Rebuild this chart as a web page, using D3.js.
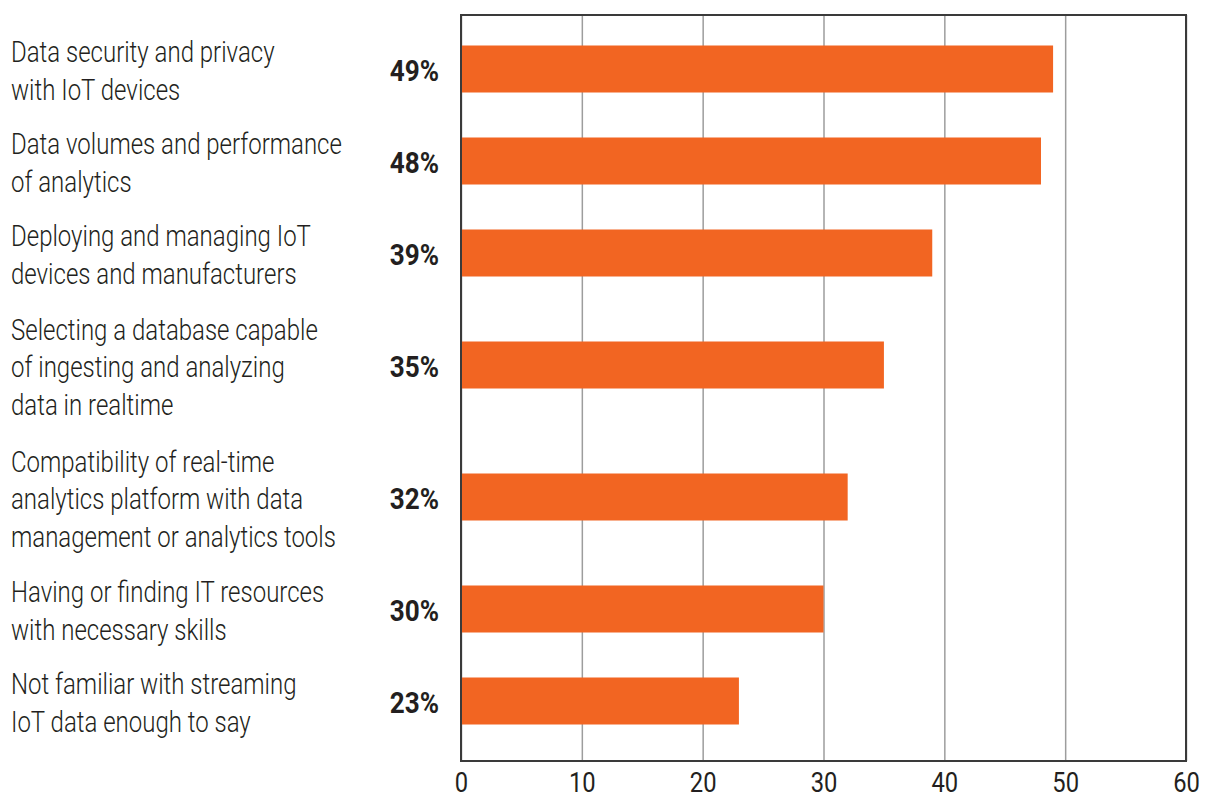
<!DOCTYPE html>
<html>
<head>
<meta charset="utf-8">
<script src="https://cdn.jsdelivr.net/npm/d3@7"></script>
<style>
  html, body { margin: 0; padding: 0; background: #ffffff; }
  svg { display: block; }
  text { font-family: Roboto, "Noto Sans", sans-serif; fill: #231f20; }
</style>
</head>
<body>
<svg id="chart" width="1208" height="796"></svg>
<script>
// Survey answers, one entry per bar (label lines as they wrap)
const categories = [
  ["Data security and privacy", "with IoT devices"],
  ["Data volumes and performance", "of analytics"],
  ["Deploying and managing IoT", "devices and manufacturers"],
  ["Selecting a database capable", "of ingesting and analyzing", "data in realtime"],
  ["Compatibility of real-time", "analytics platform with data", "management or analytics tools"],
  ["Having or finding IT resources", "with necessary skills"],
  ["Not familiar with streaming", "IoT data enough to say"]
];
const values = [49, 48, 39, 35, 32, 30, 23];
const xTicks = [0, 10, 20, 30, 40, 50, 60];

const svg = d3.select("#chart");
const frame = { left: 461, top: 15, right: 1186, bottom: 761 };
const orange = "#f26522";
const labelSize = 30, labelSqueeze = 0.80;
const valueSize = 29, valueSqueeze = 0.9;
const tickSize = 27, tickSqueeze = 0.88;
const lineH = 37.5;

const x = d3.scaleLinear().domain([0, 60]).range([frame.left, frame.right]);

// vertical layout: each row takes its line count plus a little padding
const pad = 0.3, unitPx = 40;
const units = categories.map(c => c.length + pad);
const starts = d3.cumsum([0, ...units]).slice(0, -1);
const total = d3.sum(units);
const y = d3.scaleLinear().domain([0, total]).range([23, 23 + total * unitPx]);
const centers = categories.map((c, i) => y(starts[i] + units[i] / 2));
const barH = 47;

// gridlines + bottom axis
const axis = d3.axisBottom(x).tickValues(xTicks)
  .tickSize(-(frame.bottom - frame.top)).tickFormat(d3.format("d")).tickPadding(0);
const gAxis = svg.append("g").attr("transform", `translate(0,${frame.bottom})`).call(axis);
gAxis.select(".domain").remove();
gAxis.selectAll(".tick line").attr("stroke", "#9d9d9d").attr("stroke-width", 1.5);
gAxis.selectAll(".tick text")
  .attr("y", null).attr("dy", null)
  .attr("transform", `translate(0,31) scale(${tickSqueeze},1)`)
  .attr("font-size", tickSize).attr("fill", "#231f20")
  .style("font-family", "Roboto, sans-serif");

// bars
svg.append("g").selectAll("rect").data(values).join("rect")
  .attr("x", x(0))
  .attr("y", (d, i) => centers[i] - barH / 2)
  .attr("width", d => x(d) - x(0))
  .attr("height", barH)
  .attr("fill", orange);

// plot frame
svg.append("rect")
  .attr("x", frame.left).attr("y", frame.top)
  .attr("width", frame.right - frame.left).attr("height", frame.bottom - frame.top)
  .attr("fill", "none").attr("stroke", "#3a3a3a").attr("stroke-width", 2);

// category labels
const lab = svg.append("g").selectAll("g").data(categories).join("g");
lab.each(function (lines, i) {
  const g = d3.select(this);
  lines.forEach((t, j) => {
    const by = centers[i] + (j - (lines.length - 1) / 2) * lineH + 12;
    g.append("text")
      .attr("transform", `translate(11,${by}) scale(${labelSqueeze},1)`)
      .attr("font-size", labelSize)
      .attr("font-weight", 300)
      .text(t);
  });
});

// value labels
svg.append("g").selectAll("text").data(values).join("text")
  .attr("transform", (d, i) => `translate(439,${centers[i] + 12}) scale(${valueSqueeze},1)`)
  .attr("text-anchor", "end")
  .attr("font-size", valueSize)
  .attr("font-weight", "bold")
  .text(d => d + "%");
</script>
</body>
</html>
